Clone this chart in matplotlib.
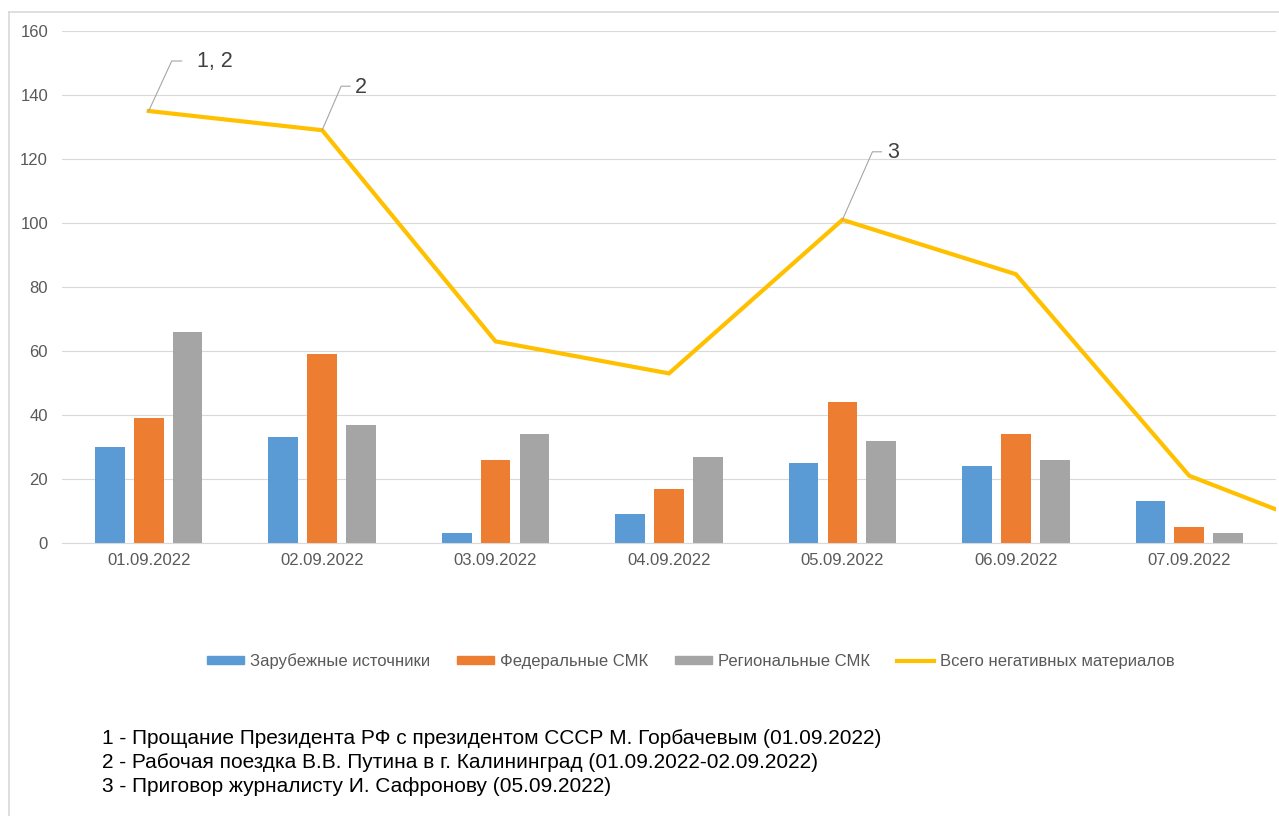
import matplotlib
matplotlib.use("Agg")
import matplotlib.pyplot as plt
import matplotlib.transforms as mtransforms
from matplotlib.lines import Line2D
from matplotlib.patches import Patch
import numpy as np

plt.rcParams['font.family'] = ['Liberation Sans', 'DejaVu Sans']

dates = ["01.09.2022", "02.09.2022", "03.09.2022", "04.09.2022",
         "05.09.2022", "06.09.2022", "07.09.2022"]
foreign = [30, 33, 3, 9, 25, 24, 13]
federal = [39, 59, 26, 17, 44, 34, 5]
regional = [66, 37, 34, 27, 32, 26, 3]
# last value belongs to a category cut off at the right edge of the chart
total = [135, 129, 63, 53, 101, 84, 21, 0]

series_names = ["Зарубежные источники", "Федеральные СМК", "Региональные СМК",
                "Всего негативных материалов"]
notes = ["1 - Прощание Президента РФ с президентом СССР М. Горбачевым (01.09.2022)",
         "2 - Рабочая поездка В.В. Путина в г. Калининград (01.09.2022-02.09.2022)",
         "3 - Приговор журналисту И. Сафронову (05.09.2022)"]
callouts = [(0, "1, 2"), (1, "2"), (4, "3")]

c_blue, c_orange, c_gray, c_line = "#5B9BD5", "#ED7D31", "#A5A5A5", "#FFC000"
tick_col = "#595959"
grid_col = "#D9D9D9"

W, H = 1279, 816
fig = plt.figure(figsize=(W / 100, H / 100), dpi=100)
ax = fig.add_axes([62 / W, 1 - 543 / H, (1276 - 62) / W, (543 - 31) / H])

x = np.arange(len(dates))
bw = 0.172
off = 0.224
ax.bar(x - off, foreign, bw, color=c_blue, zorder=2)
ax.bar(x, federal, bw, color=c_orange, zorder=2)
ax.bar(x + off, regional, bw, color=c_gray, zorder=2)
ax.plot(np.arange(len(total)), total, color=c_line, lw=3.0, zorder=3,
        solid_joinstyle='miter')

ax.set_xlim(-0.5, len(dates) - 0.5)
ax.set_ylim(0, 160)
ax.set_yticks(range(0, 161, 20))
ax.set_xticks(x)
ax.set_xticklabels(dates)
ax.tick_params(axis='both', length=0, labelsize=12, labelcolor=tick_col)
ax.tick_params(axis='y', pad=10)
ax.tick_params(axis='x', pad=7)
ax.grid(axis='y', color=grid_col, lw=0.8, zorder=0)
for s in ['top', 'right', 'left']:
    ax.spines[s].set_visible(False)
ax.spines['bottom'].set_color(grid_col)
ax.spines['bottom'].set_linewidth(0.8)

# callouts with leader lines (offsets in pixels)
leader = {"1, 2": (23, 50, 33, 15), "2": (19, 44, 28, 5), "3": (30, 68, 39, 6)}
for i, lab in callouts:
    dx, dy, hx, tx = leader[lab]
    tr = fig.dpi_scale_trans + mtransforms.ScaledTranslation(i, total[i], ax.transData)
    ax.add_line(Line2D([0, dx / 100, hx / 100], [0, dy / 100, dy / 100],
                       transform=tr, color="#A6A6A6", lw=0.8, clip_on=False, zorder=4))
    ax.annotate(lab, xy=(i, total[i]), xytext=(hx + tx, dy - 1),
                textcoords='offset pixels', ha='left', va='center',
                fontsize=15.5, color="#404040")

handles = [Patch(color=c_blue), Patch(color=c_orange), Patch(color=c_gray),
           Line2D([0], [0], color=c_line, lw=3)]
leg = fig.legend(handles, series_names, loc='center', bbox_to_anchor=(691 / W, 1 - 661 / H),
                 ncol=4, frameon=False, fontsize=12, handlelength=2.2, handleheight=0.45,
                 columnspacing=1.6, handletextpad=0.4)
for t in leg.get_texts():
    t.set_color(tick_col)

for k, n in enumerate(notes):
    fig.text(102 / W, 1 - (738 + 24 * k) / H, n, fontsize=15, color="black",
             ha='left', va='center')

# chart border
fig.add_artist(Line2D([8.5 / W, 8.5 / W], [0, 1 - 12 / H], transform=fig.transFigure,
                      color="#D9D9D9", lw=1.2))
fig.add_artist(Line2D([8.5 / W, 1], [1 - 12 / H, 1 - 12 / H], transform=fig.transFigure,
                      color="#D9D9D9", lw=1.2))

fig.savefig("out.png", dpi=100)
